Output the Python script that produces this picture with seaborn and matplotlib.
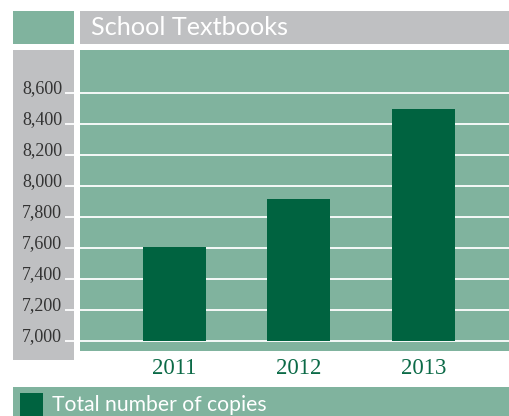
import matplotlib
matplotlib.use("Agg")
import matplotlib.pyplot as plt
from matplotlib.patches import Rectangle
import seaborn as sns
import pandas as pd

# ---- data ----
years = ["2011", "2012", "2013"]
copies = [7605, 7915, 8500]
ytick_values = [7000, 7200, 7400, 7600, 7800, 8000, 8200, 8400, 8600]
ytick_labels = ["7,000", "7,200", "7,400", "7,600", "7,800", "8,000", "8,200", "8,400", "8,600"]
title = "School Textbooks"
legend_label = "Total number of copies"

# ---- style ----
LIGHT = "#80b39e"
DARK = "#006340"
GRAY = "#bfc0c2"
W, H = 509, 416

sns.set_theme(style="white")
plt.rcParams["font.family"] = ["Lato", "DejaVu Sans"]

fig = plt.figure(figsize=(W / 100, H / 100), dpi=100)
fig.patch.set_facecolor("white")


def box(x0, y0, x1, y1):
    return [x0 / W, 1 - y1 / H, (x1 - x0) / W, (y1 - y0) / H]


def frect(x0, y0, x1, y1, color):
    b = box(x0, y0, x1, y1)
    fig.add_artist(Rectangle((b[0], b[1]), b[2], b[3], transform=fig.transFigure,
                             facecolor=color, edgecolor="none", zorder=0))


# pixel -> value mapping for y axis
y_base_px, y_top_px = 341.0, 93.3
ppu = (y_base_px - y_top_px) / (ytick_values[-1] - ytick_values[0])


def px2val(py):
    return ytick_values[0] + (y_base_px - py) / ppu


# header row
frect(13, 11, 74, 44, LIGHT)
frect(80, 11, W, 44, GRAY)
fig.text(91 / W, 1 - 34.7 / H, title, color="white", fontsize=18.2,
         ha="left", va="baseline", family=["Lato", "DejaVu Sans"])

# legend band
frect(13, 387, W, H, LIGHT)
frect(20, 393, 43.3, H, DARK)
fig.text(52 / W, 1 - 411.3 / H, legend_label, color="white", fontsize=15.2,
         ha="left", va="baseline", family=["Lato", "DejaVu Sans"])

# left gray column with tick labels
axl = fig.add_axes(box(13, 50, 74, 360))
axl.set_facecolor(GRAY)
for s in axl.spines.values():
    s.set_visible(False)
axl.set_xlim(0, 1)
axl.set_ylim(px2val(360), px2val(50))
axl.set_xticks([])
axl.yaxis.tick_right()
axl.tick_params(axis="y", which="major", direction="in", length=6.5, width=1.3,
                color="white", left=False, right=True, labelleft=False,
                labelright=True, pad=-8.6, labelsize=13, labelcolor="#333333")
axl.set_yticks(ytick_values, labels=ytick_labels, ha="right", va="baseline",
               family=["Liberation Serif", "DejaVu Serif"])

# main plot
ax = fig.add_axes(box(80, 50, W, 351))
ax.set_facecolor(LIGHT)
df = pd.DataFrame({"year": years, "copies": copies})
sns.barplot(data=df, x="year", y="copies", color=DARK, saturation=1,
            width=0.506, ax=ax, zorder=3)
for p in ax.patches:
    top = p.get_y() + p.get_height()
    p.set_y(ytick_values[0])
    p.set_height(top - ytick_values[0])
    p.set_edgecolor("none")

ax.set_xlim(-0.759, 2.687)
ax.set_ylim(px2val(351), px2val(50))
ax.set_yticks(ytick_values)
ax.yaxis.grid(True, color="white", linewidth=1.3, zorder=1)
ax.set_axisbelow(True)
ax.tick_params(axis="y", length=0, labelleft=False)
ax.tick_params(axis="x", length=0, pad=5, labelsize=16.5, labelcolor="#0b6a47")
for lab in ax.get_xticklabels():
    lab.set_family(["Liberation Serif", "DejaVu Serif"])
ax.set_xlabel("")
ax.set_ylabel("")
for s in ax.spines.values():
    s.set_visible(False)

fig.savefig("out.png", dpi=100, facecolor="white")
